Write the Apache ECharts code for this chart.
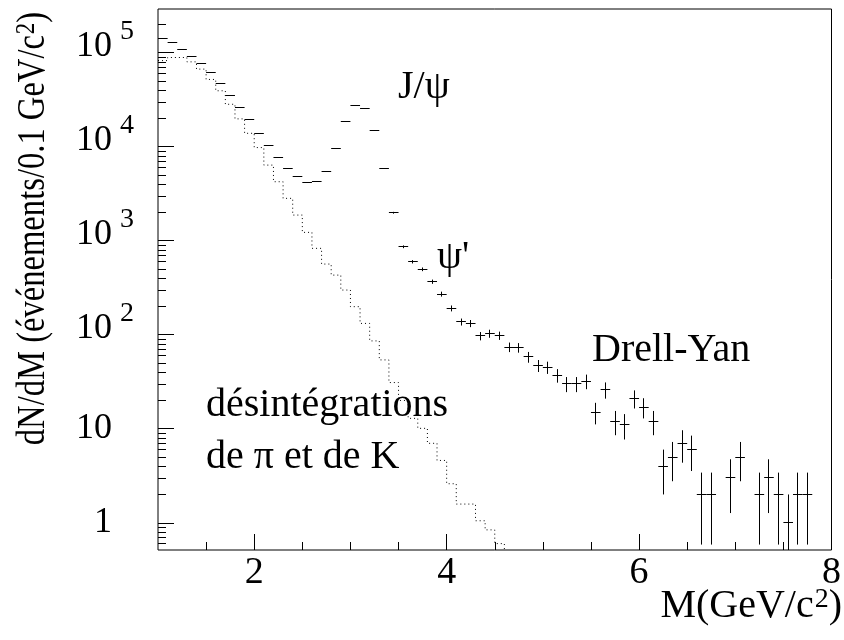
<!DOCTYPE html>
<html>
<head>
<meta charset="utf-8">
<script src="https://cdn.jsdelivr.net/npm/echarts@6/dist/echarts.min.js"></script>
<style>html,body{margin:0;padding:0;background:#fff}#c{width:844px;height:640px}</style>
</head>
<body>
<div id="c"></div>
<script>
// ---- binning ----
const BIN_START = 1.0;
const BIN_WIDTH = 0.1;

// ---- measured dimuon spectrum: events per 0.1 GeV/c^2 bin, bins starting at 1.0 (null = empty bin) ----
const dataCounts = [
  142000, 128500, 107400, 91200, 77100, 61200, 47200, 35500, 26300, 19500,   // 1.0 - 1.9
  13700, 10200, 7770, 5890, 4800, 4140, 4245, 5420, 9640, 18450,            // 2.0 - 2.9
  27200, 25300, 15060, 5890, 1985, 863, 598, 497, 367, 271,                 // 3.0 - 3.9
  191, 137, 132, 97, 103, 98, 74, 73, 58, 47,                               // 4.0 - 4.9
  45, 37, 30, 30, 32, 15, 26, 12, 11, 21,                                   // 5.0 - 5.9
  17, 12, 4, 5, 7, 6, 2, 2, null, 3,                                        // 6.0 - 6.9
  5, null, 2, 3, 2, 1, 2, 2                                                 // 7.0 - 7.7
];

// ---- pi and K decay contribution (dotted histogram), bins starting at 1.0 ----
const decayCounts = [
  82500, 89000, 89000, 80000, 67000, 52000, 39400, 28300, 19800, 13900,    // 1.0 - 1.9
  9800, 6380, 4245, 2825, 1876, 1228, 830, 565, 431, 299,                   // 2.0 - 2.9
  199, 132, 86, 54, 31, 20, 12.9, 10.1, 7.0, 4.6,                           // 3.0 - 3.9
  2.6, 1.58, 1.58, 1.05, 0.84, 0.6, 0.4                                     // 4.0 - 4.6
];

// ---- axes ----
const X_MIN = 1, X_MAX = 8;
const xMajorTicks = [2, 4, 6, 8];
const xMinorTicks = [1.5, 2.5, 3, 3.5, 4.5, 5, 5.5, 6.5, 7, 7.5];
const Y_MIN_VAL = 0.513, Y_MAX_VAL = 2.92e5;     // visible range of dN/dM
const yDecades = [0, 1, 2, 3, 4, 5];            // exponents of 10 with a major tick
const yPlainLabels = [0, 1];                    // written "1" and "10"
const yExponentLabels = [2, 3, 4, 5];           // written 10 with a superscript exponent
const yMinorMantissas = [2, 3, 4, 5, 6, 7, 8, 9];

// ---- texts ----
const annotations = [
  { text: 'J/ψ', x: 398, y: 87 },
  { text: "ψ'", x: 437, y: 257 },
  { text: 'Drell-Yan', x: 592, y: 350 },
  { text: 'désintégrations', x: 206, y: 405 },
  { text: 'de π et de K', x: 206, y: 457 }
];
const yTitle = ['dN/dM (événements/0.1 GeV/c', '2', ')'];
const xTitle = ['M(GeV/c', '2', ')'];

const FONT = '"Liberation Serif", "Times New Roman", serif';
const lg = v => Math.log10(v);

const yMin = lg(Y_MIN_VAL), yMax = lg(Y_MAX_VAL);
const yMinor = [];
for (let d = -1; d <= 5; d++) {
  yMinorMantissas.forEach(m => {
    const v = lg(m) + d;
    if (v > yMin && v < yMax) yMinor.push(v);
  });
}

// points (with Poisson sqrt(N) errors)
const points = [];
dataCounts.forEach((n, i) => {
  if (n == null) return;
  const xc = BIN_START + (i + 0.5) * BIN_WIDTH;
  const err = Math.sqrt(n);
  points.push([xc, lg(n), lg(Math.max(n - err, 1e-3)), lg(n + err)]);
});

// step histogram
const histo = decayCounts.map((h, i) => [BIN_START + i * BIN_WIDTH, lg(h)]);

const crisp = v => Math.round(v - 0.5) + 0.5;

const titleRich = {
  a: { fontFamily: FONT, fontSize: 40, lineHeight: 40, verticalAlign: 'bottom', fill: '#000' },
  s: { fontFamily: FONT, fontSize: 28, lineHeight: 28, padding: [0, 0, 16, 1], verticalAlign: 'top', fill: '#000' }
};
const richTitle = parts => '{a|' + parts[0] + '}{s|' + parts[1] + '}{a|' + parts[2] + '}';

const chart = echarts.init(document.getElementById('c'), null, { renderer: 'canvas' });

const hiddenLine = { show: false, onZero: false };
const yBase = { type: 'value', min: yMin, max: yMax, position: 'left', axisLine: hiddenLine, splitLine: { show: false } };

const option = {
  animation: false,
  backgroundColor: '#fff',
  grid: { left: 158, right: 11, top: 9, bottom: 90, show: true, borderColor: '#000', borderWidth: 1, backgroundColor: 'transparent' },
  xAxis: [
    {
      type: 'value', min: X_MIN, max: X_MAX, position: 'bottom',
      axisLine: hiddenLine,
      splitLine: { show: false },
      axisTick: { show: true, inside: true, length: 16, customValues: xMajorTicks, lineStyle: { color: '#000', width: 1 } },
      axisLabel: { show: true, customValues: xMajorTicks, margin: 4, color: '#000', fontFamily: FONT, fontSize: 38, lineHeight: 38 }
    },
    {
      type: 'value', min: X_MIN, max: X_MAX, position: 'bottom',
      axisLine: hiddenLine,
      splitLine: { show: false },
      axisTick: { show: true, inside: true, length: 8, customValues: xMinorTicks, lineStyle: { color: '#000', width: 1 } },
      axisLabel: { show: false }
    }
  ],
  yAxis: [
    Object.assign({}, yBase, {
      axisTick: { show: true, inside: true, length: 16, customValues: yDecades, lineStyle: { color: '#000', width: 1 } },
      axisLabel: {
        show: true, customValues: yPlainLabels, margin: 46, color: '#000',
        fontFamily: FONT, fontSize: 36, lineHeight: 36,
        formatter: v => (Math.round(v) === 0 ? '1' : '10')
      }
    }),
    Object.assign({}, yBase, {
      axisTick: { show: true, inside: true, length: 8, customValues: yMinor, lineStyle: { color: '#000', width: 1 } },
      axisLabel: {
        show: true, customValues: yExponentLabels, margin: 46, color: '#000',
        fontFamily: FONT, fontSize: 36, lineHeight: 12, verticalAlign: 'bottom',
        formatter: () => '10'
      }
    }),
    Object.assign({}, yBase, {
      axisTick: { show: false },
      axisLabel: {
        show: true, customValues: yExponentLabels, margin: 24, color: '#000',
        fontFamily: FONT, fontSize: 28, lineHeight: 42, verticalAlign: 'bottom',
        formatter: v => String(Math.round(v))
      }
    })
  ],
  series: [
    {
      type: 'line', name: 'decays', xAxisIndex: 0, yAxisIndex: 0,
      data: histo, step: 'end', showSymbol: false, symbol: 'none', clip: true,
      lineStyle: { color: '#000', width: 1, type: [1, 3] }
    },
    {
      type: 'custom', name: 'data', xAxisIndex: 0, yAxisIndex: 0,
      data: points,
      renderItem: (params, api) => {
        const cs = params.coordSys;
        const xc = api.value(0), ly = api.value(1), llo = api.value(2), lhi = api.value(3);
        const pl = api.coord([xc - BIN_WIDTH / 2, ly]);
        const pr = api.coord([xc + BIN_WIDTH / 2, ly]);
        const pt = api.coord([xc, lhi]);
        const pb = api.coord([xc, llo]);
        const yb = Math.min(pb[1], cs.y + cs.height);
        const yt = Math.max(pt[1], cs.y);
        const yy = crisp(pl[1]);
        const xx = crisp(pt[0]);
        const children = [
          { type: 'line', shape: { x1: pl[0], y1: yy, x2: pr[0], y2: yy }, style: { stroke: '#000', lineWidth: 1 } }
        ];
        if (yb - yt > 1.5) {
          children.push({ type: 'line', shape: { x1: xx, y1: yt, x2: xx, y2: yb }, style: { stroke: '#000', lineWidth: 1 } });
        }
        return { type: 'group', children };
      }
    }
  ],
  graphic: [
    {
      type: 'text', x: 33, y: 12, rotation: Math.PI / 2, scaleX: 0.815, scaleY: 1,
      style: { text: richTitle(yTitle), align: 'right', verticalAlign: 'middle', fill: '#000', rich: titleRich }
    },
    {
      type: 'text', x: 842, y: 606,
      style: { text: richTitle(xTitle), align: 'right', verticalAlign: 'middle', fill: '#000', rich: titleRich }
    }
  ].concat(annotations.map(a => ({
    type: 'text', x: a.x, y: a.y,
    style: { text: a.text, font: '40px ' + FONT, fill: '#000', align: 'left', verticalAlign: 'middle' }
  })))
};

chart.setOption(option);
</script>
</body>
</html>
